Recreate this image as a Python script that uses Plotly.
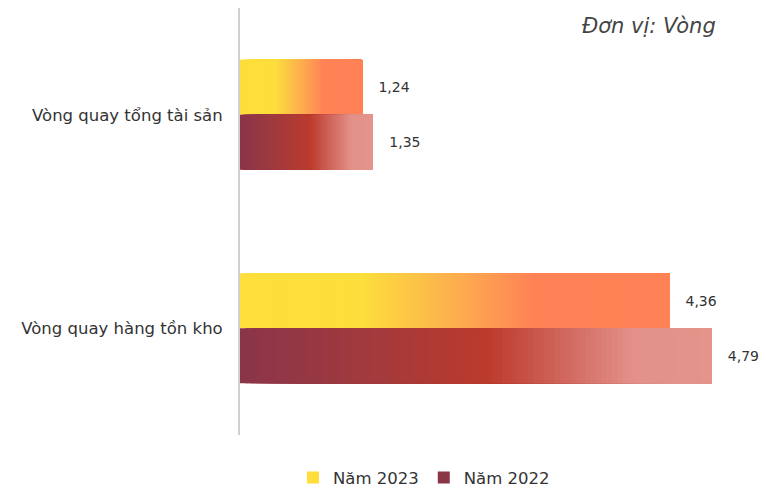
import plotly.graph_objects as go

categories = ["Vòng quay tổng tài sản", "Vòng quay hàng tồn kho"]
series_names = ["Năm 2023", "Năm 2022"]
values_2023 = [1.24, 4.36]
values_2022 = [1.35, 4.79]
unit_label = "Đơn vị: Vòng"

# gradient stops (position along bar, colour) - styling only
grad_2023 = [(0.0, (253, 222, 59)), (0.28, (253, 222, 59)), (0.48, (252, 178, 78)), (0.68, (255, 130, 86)), (1.0, (255, 130, 86))]
grad_2022 = [(0.0, (139, 53, 73)), (0.25, (160, 58, 62)), (0.52, (188, 58, 44)), (0.83, (227, 145, 138)), (1.0, (228, 148, 138))]

N_SEG = 90
FONT = "DejaVu Sans"


def colour_at(stops, t):
    for (p0, c0), (p1, c1) in zip(stops, stops[1:]):
        if p0 <= t <= p1:
            f = 0 if p1 == p0 else (t - p0) / (p1 - p0)
            c = [round(a + (b - a) * f) for a, b in zip(c0, c1)]
            return "rgb(%d,%d,%d)" % tuple(c)
    return "rgb(%d,%d,%d)" % stops[-1][1]


def gradient_trace(name, vals, stops):
    ys, xs, bases, cols, texts = [], [], [], [], []
    for cat, v in zip(categories, vals):
        for i in range(N_SEG):
            t = i / N_SEG
            start = v * t
            ys.append(cat)
            bases.append(start)
            xs.append(v - start)
            cols.append(colour_at(stops, t))
            texts.append(("   " + f"{v:.2f}".replace(".", ",")) if i == N_SEG - 1 else "")
    return go.Bar(
        name=name, y=ys, x=xs, base=bases, orientation="h",
        marker=dict(color=cols, line=dict(width=0)),
        text=texts, textposition="outside", cliponaxis=False,
        textfont=dict(family=FONT, size=14, color="#333333"),
        hoverinfo="skip",
    )


fig = go.Figure()
fig.add_trace(gradient_trace(series_names[0], values_2023, grad_2023))
fig.add_trace(gradient_trace(series_names[1], values_2022, grad_2022))

fig.update_layout(
    width=766, height=493,
    margin=dict(l=240, r=26, t=8, b=58, autoexpand=False),
    paper_bgcolor="white", plot_bgcolor="white",
    barmode="group", bargap=0.485, bargroupgap=0,
    font=dict(family=FONT, size=16, color="#333333"),
    showlegend=True,
    legend=dict(orientation="h", x=0.368, xanchor="center", y=-0.1, yanchor="middle",
                font=dict(family=FONT, size=16.5, color="#333333"), itemwidth=30),
    xaxis=dict(range=[0, 5.08], visible=False, fixedrange=True),
    yaxis=dict(categoryorder="array", categoryarray=categories, autorange="reversed",
               showline=True, linecolor="#d0d0d0", linewidth=2, showgrid=False,
               ticks="", ticklabelstandoff=12, tickfont=dict(family=FONT, size=16.5, color="#333333")),
    annotations=[dict(text=unit_label, xref="paper", yref="paper", x=0.956, y=1.0, yanchor="top",
                      xanchor="right", showarrow=False, yshift=-4,
                      font=dict(family=FONT, size=21, color="#444444", style="italic"))],
)

fig.write_html("out.html", config={"displayModeBar": False},
               post_script="document.body.style.margin='0';document.body.style.overflow='hidden';")
